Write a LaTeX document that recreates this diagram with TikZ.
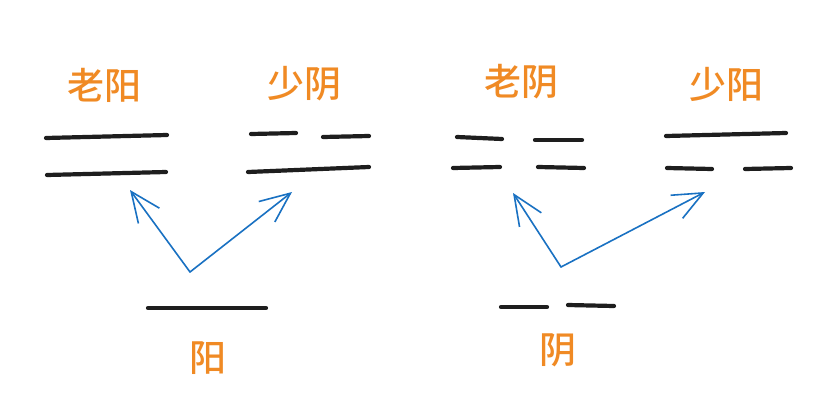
\documentclass[tikz,border=0pt]{standalone}
\usepackage{fontspec}
\newfontfamily\cjk{Noto Sans CJK SC Medium}
\usetikzlibrary{arrows.meta}
\definecolor{inkblack}{HTML}{1E1E1E}
\definecolor{lblorange}{HTML}{F08A24}
\definecolor{arrblue}{HTML}{1971C2}
\tikzset{
  bar/.style={draw=inkblack, line width=4.2pt, line cap=round},
  lbl/.style={text=lblorange, font=\cjk\fontsize{37}{40}\selectfont, inner sep=0pt},
  arr/.style={draw=arrblue, line width=1.6pt, line cap=round, -{Straight Barb[length=30pt,width=26pt,line width=1.6pt]}}
}
\begin{document}
\begin{tikzpicture}[x=1pt,y=-1pt]
\useasboundingbox[fill=white] (0,0) rectangle (832,412);
% labels
\node[lbl] (laoyang) at (104,85) {老阳};
\node[lbl] (shaoyin) at (304,84) {少阴};
\node[lbl] (laoyin) at (521,82) {老阴};
\node[lbl] (shaoyang) at (726,84) {少阳};
\node[lbl] (yang) at (208,358) {阳};
\node[lbl] (yin) at (558,350) {阴};
% 老阳
\draw[bar] (46,138) -- (167,135);
\draw[bar] (47,175) -- (166,172);
% 少阴
\draw[bar] (251,134) -- (296,133);
\draw[bar] (323,137) -- (369,136);
\draw[bar] (248,172) -- (369,167);
% 阳
\draw[bar] (148,308) -- (266,308);
% 老阴
\draw[bar] (457,137) -- (502,139);
\draw[bar] (535,140) -- (582,140);
\draw[bar] (453,168) -- (500,167);
\draw[bar] (538,167) -- (584,168);
% 少阳
\draw[bar] (666,136) -- (786,133);
\draw[bar] (667,168) -- (712,169);
\draw[bar] (745,169) -- (791,168);
% 阴
\draw[bar] (501,307) -- (547,307);
\draw[bar] (568,305) -- (614,306);
% arrow endpoints
\coordinate (o1) at (190,272);
\coordinate (t1) at (130,190);
\coordinate (t2) at (292,192);
\coordinate (o2) at (561,267);
\coordinate (t3) at (513,193);
\coordinate (t4) at (705,192);
\draw[arr] (o1) -- (t1);
\draw[arr] (o1) -- (t2);
\draw[arr] (o2) -- (t3);
\draw[arr] (o2) -- (t4);
\end{tikzpicture}
\end{document}
